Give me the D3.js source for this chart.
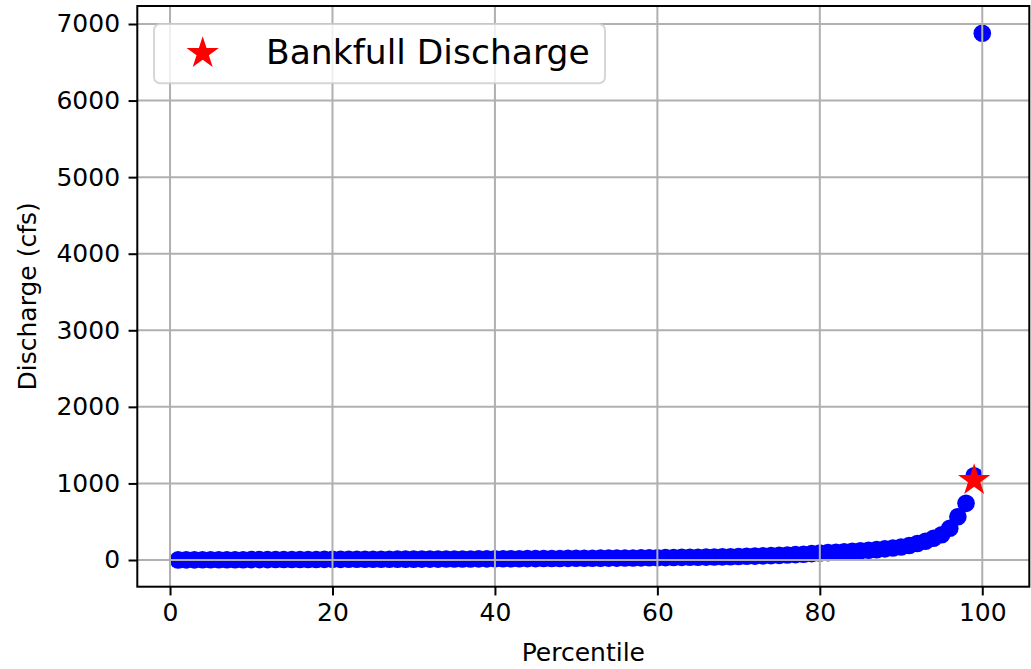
<!DOCTYPE html>
<html>
<head>
<meta charset="utf-8">
<script src="https://cdn.jsdelivr.net/npm/d3@7"></script>
<style>
  html, body { margin: 0; padding: 0; background: #fff; }
  svg { display: block; }
  text { font-family: "DejaVu Sans", sans-serif; fill: #000; }
</style>
</head>
<body>
<svg id="chart" width="1031" height="669"></svg>
<script>
// ---- data ----
const percentiles = [
  1,2,3,4,5,6,7,8,9,10,
  11,12,13,14,15,16,17,18,19,20,
  21,22,23,24,25,26,27,28,29,30,
  31,32,33,34,35,36,37,38,39,40,
  41,42,43,44,45,46,47,48,49,50,
  51,52,53,54,55,56,57,58,59,60,
  61,62,63,64,65,66,67,68,69,70,
  71,72,73,74,75,76,77,78,79,80,
  81,82,83,84,85,86,87,88,89,90,
  91,92,93,94,95,96,97,98,99,100
];
const discharge = [
  1,2,2,3,3,3,4,4,4,5,
  5,5,6,6,6,7,7,7,8,8,
  8,9,9,9,10,10,10,11,11,11,
  12,12,12,13,13,14,14,15,15,16,
  16,17,17,18,18,19,20,20,21,22,
  22,23,24,25,25,26,27,28,29,30,
  31,32,34,35,36,38,39,41,43,45,
  48,51,54,57,61,65,70,76,83,91,
  96,101,107,113,120,127,135,145,157,170,
  190,215,245,285,330,414,565,740,1100,6880
];
const bankfullPercentile = [99];
const bankfullDischarge = [1040];
const legendLabels = ["Bankfull Discharge"];
const xTicks = [0, 20, 40, 60, 80, 100];
const yTicks = [0, 1000, 2000, 3000, 4000, 5000, 6000, 7000];
const xLabel = "Percentile";
const yLabel = "Discharge (cfs)";

// ---- layout ----
const svg = d3.select("#chart");
const L = 137.3, R = 1029.3, T = 6, B = 586.7;
const x = d3.scaleLinear().domain([-4.03, 105.79]).range([L, R]);
const y = d3.scaleLinear().domain([-348.7, 7235]).range([B, T]);

const plot = svg.append("g");

// clip
svg.append("defs").append("clipPath").attr("id", "clip")
  .append("rect").attr("x", L).attr("y", T).attr("width", R - L).attr("height", B - T);

// scatter points (below grid)
plot.append("g").attr("clip-path", "url(#clip)")
  .selectAll("circle").data(percentiles).join("circle")
  .attr("cx", d => x(d))
  .attr("cy", (d, i) => y(discharge[i]))
  .attr("r", 8.8)
  .attr("fill", "#0000ff");

// grid
const grid = plot.append("g").attr("stroke", "#b0b0b0").attr("stroke-width", 2);
grid.selectAll("line.gx").data(xTicks).join("line")
  .attr("x1", d => x(d)).attr("x2", d => x(d)).attr("y1", T).attr("y2", B);
grid.selectAll("line.gy").data(yTicks).join("line")
  .attr("y1", d => y(d)).attr("y2", d => y(d)).attr("x1", L).attr("x2", R);

// bankfull star (above grid)
const star = d3.symbol().type(d3.symbolStar).size(17 * 17 / 0.8908130915292852);
plot.append("g").selectAll("path").data(bankfullPercentile).join("path")
  .attr("d", star)
  .attr("transform", (d, i) => `translate(${x(d)},${y(bankfullDischarge[i])})`)
  .attr("fill", "#ff0000");

// axes
const xAxis = d3.axisBottom(x).tickValues(xTicks).tickSize(8.75).tickPadding(8).tickFormat(d3.format("d"));
const yAxis = d3.axisLeft(y).tickValues(yTicks).tickSize(8.75).tickPadding(8.5).tickFormat(d3.format("d"));

const gx = svg.append("g").attr("transform", `translate(0,${B})`).call(xAxis);
const gy = svg.append("g").attr("transform", `translate(${L},0)`).call(yAxis);
[gx, gy].forEach(g => {
  g.select(".domain").remove();
  g.selectAll(".tick line").attr("stroke", "#000").attr("stroke-width", 2);
  g.selectAll(".tick text").attr("font-family", "DejaVu Sans").attr("font-size", 25).attr("fill", "#000");
});

// spines
svg.append("rect").attr("x", L).attr("y", T).attr("width", R - L).attr("height", B - T)
  .attr("fill", "none").attr("stroke", "#000").attr("stroke-width", 2);

// axis labels
svg.append("text").attr("x", (L + R) / 2).attr("y", 661)
  .attr("text-anchor", "middle").attr("font-size", 25).text(xLabel);
svg.append("text")
  .attr("transform", `translate(36,${(T + B) / 2}) rotate(-90)`)
  .attr("text-anchor", "middle").attr("font-size", 25).text(yLabel);

// legend
const lg = svg.append("g");
lg.append("rect").attr("x", 154).attr("y", 24).attr("width", 451).attr("height", 59.3)
  .attr("rx", 6).attr("fill", "#ffffff").attr("fill-opacity", 0.8)
  .attr("stroke", "#cccccc").attr("stroke-opacity", 0.8).attr("stroke-width", 2);
lg.selectAll("path").data(legendLabels).join("path")
  .attr("d", star).attr("transform", "translate(202.7,53.3)").attr("fill", "#ff0000");
lg.selectAll("text").data(legendLabels).join("text")
  .attr("x", 266).attr("y", 63.5).attr("font-size", 34.5).text(d => d);
</script>
</body>
</html>
